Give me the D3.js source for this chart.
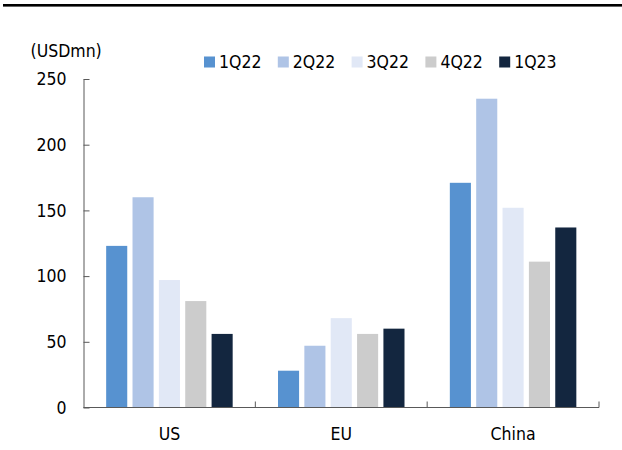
<!DOCTYPE html>
<html>
<head>
<meta charset="utf-8">
<script src="https://cdn.jsdelivr.net/npm/d3@7"></script>
<style>
  html, body { margin: 0; padding: 0; background: #fff; }
  svg { display: block; }
  text { font-family: "DejaVu Sans Condensed", "DejaVu Sans", Verdana, sans-serif; font-stretch: condensed; fill: #000; }
</style>
</head>
<body>
<svg id="chart" width="622" height="450"></svg>
<script>
// Quarterly values by region (USD mn)
const regions = ["US", "EU", "China"];
const quarters = ["1Q22", "2Q22", "3Q22", "4Q22", "1Q23"];
const values1Q22 = [123, 28, 171];
const values2Q22 = [160, 47, 235];
const values3Q22 = [97, 68, 152];
const values4Q22 = [81, 56, 111];
const values1Q23 = [56, 60, 137];
const yTicks = [0, 50, 100, 150, 200, 250];
const unitLabel = "(USDmn)";

const seriesValues = [values1Q22, values2Q22, values3Q22, values4Q22, values1Q23];
const colors = ["#5792D0", "#AFC4E6", "#E1E8F6", "#CCCCCC", "#13263F"];
const fontSize = "17.5px";

const svg = d3.select("#chart");
const plotLeft = 83.5, plotRight = 599, plotTop = 79, plotBottom = 407.5;

// Heavy rule across the top
svg.append("rect").attr("x", 3).attr("y", 4).attr("width", 619).attr("height", 2.6).attr("fill", "#000");

const x0 = d3.scaleBand().domain(regions).range([plotLeft, plotRight]).paddingInner(0).paddingOuter(0);
const x1 = d3.scaleBand().domain(quarters).range([0, x0.bandwidth()]).paddingInner(0.2).paddingOuter(0.86);
const y = d3.scaleLinear().domain([0, 250]).range([plotBottom, plotTop]);

// Bars
const groups = svg.append("g").selectAll("g")
  .data(regions)
  .join("g")
  .attr("transform", d => `translate(${x0(d)},0)`);

groups.selectAll("rect")
  .data((r, i) => quarters.map((q, k) => ({ q, k, v: seriesValues[k][i] })))
  .join("rect")
  .attr("x", d => x1(d.q))
  .attr("width", x1.bandwidth())
  .attr("y", d => y(d.v))
  .attr("height", d => y(0) - y(d.v))
  .attr("fill", d => colors[d.k]);

// Y axis with inward ticks
const yAxis = d3.axisLeft(y).tickValues(yTicks).tickSizeInner(-6).tickSizeOuter(0).tickPadding(17);
const gy = svg.append("g").attr("transform", `translate(${plotLeft},0)`).call(yAxis);
gy.select(".domain").attr("stroke", "#595959");
gy.selectAll(".tick line").attr("stroke", "#595959");
gy.selectAll("text").style("font-size", fontSize).style("font-family", null).attr("fill", "#000");

// X axis: ticks at region boundaries, pointing up
const boundaries = regions.map(r => x0(r)).concat([plotRight]).slice(1);
const gx = svg.append("g").attr("transform", `translate(0,${plotBottom})`);
gx.append("line").attr("x1", plotLeft).attr("x2", plotRight).attr("y1", 0).attr("y2", 0).attr("stroke", "#595959");
gx.selectAll("line.sep").data(boundaries).join("line").attr("class", "sep")
  .attr("x1", d => d).attr("x2", d => d).attr("y1", 0).attr("y2", -6).attr("stroke", "#595959");
gx.selectAll("text").data(regions).join("text")
  .attr("x", d => x0(d) + x0.bandwidth() / 2)
  .attr("y", 32)
  .attr("text-anchor", "middle")
  .style("font-size", fontSize)
  .text(d => d);

// Unit label
svg.append("text").attr("x", 30.5).attr("y", 56.5).style("font-size", fontSize).text(unitLabel);

// Legend
const legend = svg.append("g").selectAll("g").data(quarters).join("g")
  .attr("transform", (d, i) => `translate(${204 + i * 73.8},56.5)`);
legend.append("rect").attr("width", 11).attr("height", 11).attr("fill", (d, i) => colors[i]);
legend.append("text").attr("x", 15).attr("y", 11.7).style("font-size", fontSize).text(d => d);
</script>
</body>
</html>
